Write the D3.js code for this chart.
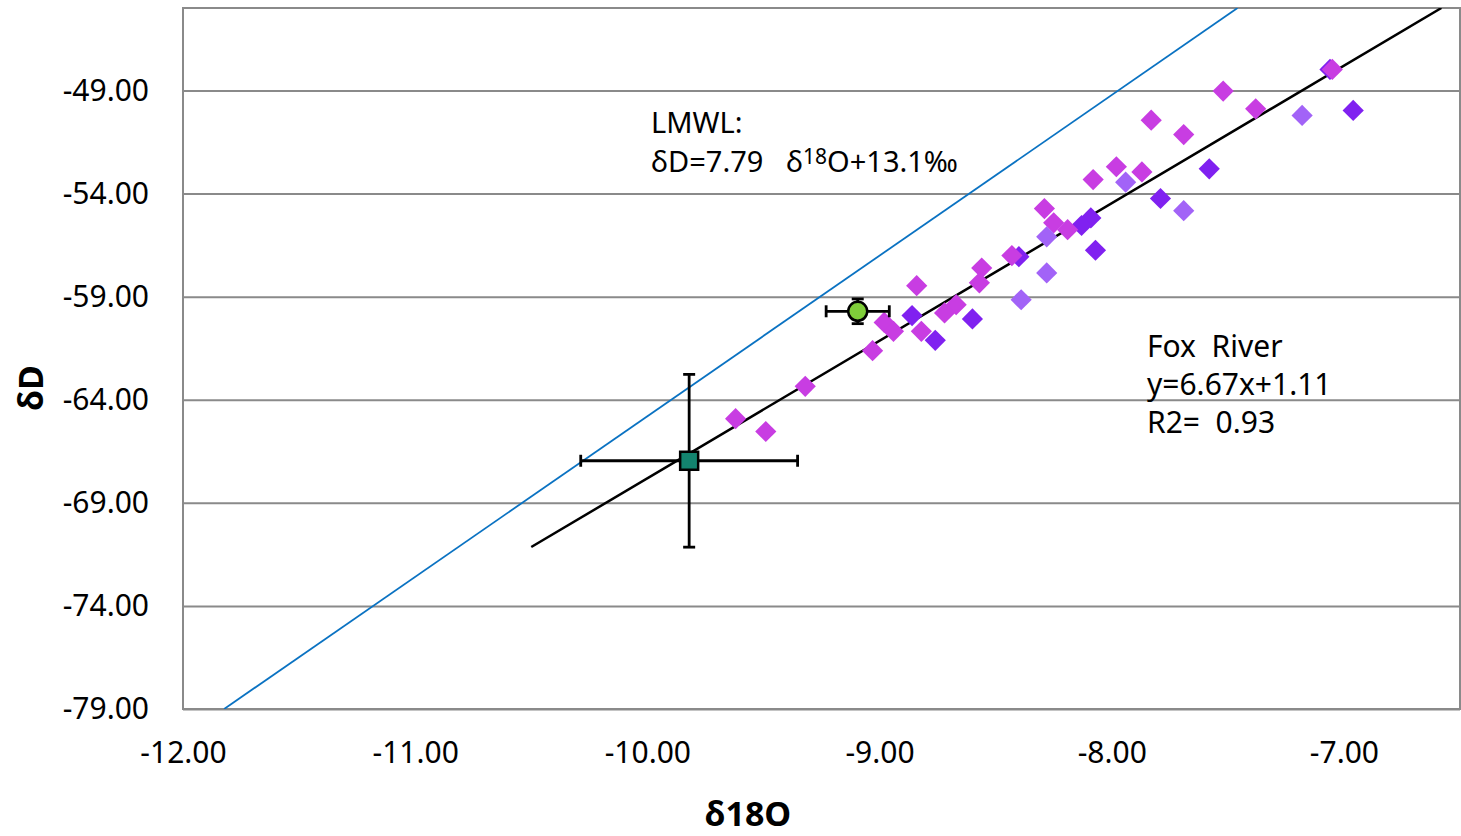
<!DOCTYPE html>
<html>
<head>
<meta charset="utf-8">
<script src="https://cdn.jsdelivr.net/npm/d3@7"></script>
<style>
  body { margin: 0; background: #fff; }
  text { font-family: "Noto Sans", "Open Sans", sans-serif; fill: #000; }
</style>
</head>
<body>
<div id="chart"></div>
<script>
// samples, three groups of diamonds (d18O, dD)
const violetPts = [
  [-7.06, -47.98], [-6.96, -49.97], [-7.58, -52.80], [-7.79, -54.24],
  [-8.09, -55.18], [-8.13, -55.55], [-8.07, -56.75], [-8.40, -57.06],
  [-8.86, -59.92], [-8.60, -60.08], [-8.76, -61.12]
];
const magentaPts = [
  [-7.05, -47.98], [-7.52, -49.03], [-7.38, -49.89], [-7.83, -50.44],
  [-7.69, -51.14], [-7.98, -52.70], [-7.87, -52.95], [-8.08, -53.32],
  [-8.29, -54.73], [-8.25, -55.42], [-8.19, -55.75], [-8.43, -57.01],
  [-8.56, -57.61], [-8.57, -58.33], [-8.84, -58.47], [-8.67, -59.39],
  [-8.72, -59.79], [-8.98, -60.25], [-8.94, -60.68], [-8.82, -60.68],
  [-9.03, -61.62], [-9.32, -63.35], [-9.62, -64.92], [-9.49, -65.54]
];
const lightPts = [
  [-7.18, -50.21], [-7.94, -53.45], [-7.69, -54.83], [-8.28, -56.10],
  [-8.28, -57.85], [-8.39, -59.15]
];

// mean values with error bars: [x, y, xErr, yErr]
const greenMean = [-9.094, -59.71, 0.136, 0.6];
const squareMean = [-9.82, -66.96, 0.467, 4.19];

// lines
const lmwl = { slope: 7.79, intercept: 13.1 };
const foxTrend = { slope: 6.67, intercept: -1.11, startX: -10.5 };

const xTicks = [-12, -11, -10, -9, -8, -7];
const yTicks = [-79, -74, -69, -64, -59, -54, -49];
const xDomain = [-12, -6.5];
const yDomain = [-79, -45];

const foxLabels = ['Fox\u00a0\u00a0River', 'y=6.67x+1.11', 'R2=\u00a0\u00a00.93'];

const colors = { violet: '#8021f0', magenta: '#c83de2', light: '#a263f7' };

const dimensions = {
  width: 1461,
  height: 836,
  margin: { top: 8, right: 1, bottom: 127, left: 183 }
};
dimensions.ctrWidth = dimensions.width - dimensions.margin.left - dimensions.margin.right;
dimensions.ctrHeight = dimensions.height - dimensions.margin.top - dimensions.margin.bottom;

const svg = d3.select('#chart')
  .append('svg')
  .attr('width', dimensions.width)
  .attr('height', dimensions.height);

const ctr = svg.append('g')
  .attr('transform', `translate(${dimensions.margin.left}, ${dimensions.margin.top})`);

const xScale = d3.scaleLinear().domain(xDomain).range([0, dimensions.ctrWidth]);
const yScale = d3.scaleLinear().domain(yDomain).range([dimensions.ctrHeight, 0]);

svg.append('defs').append('clipPath').attr('id', 'plot-clip')
  .append('rect')
  .attr('width', dimensions.ctrWidth)
  .attr('height', dimensions.ctrHeight);

// plain hyphen, like the original
const fmt = (d) => d.toFixed(2);

// grid + y axis
const yAxis = d3.axisLeft(yScale)
  .tickValues(yTicks)
  .tickSize(-dimensions.ctrWidth)
  .tickPadding(34)
  .tickFormat(fmt);

const yAxisGroup = ctr.append('g').call(yAxis);
yAxisGroup.select('.domain').remove();
yAxisGroup.selectAll('line').attr('stroke', '#8a8a8a').attr('stroke-width', 2);
yAxisGroup.selectAll('text')
  .attr('font-size', 30)
  .attr('font-family', '"Noto Sans", sans-serif')
  .attr('fill', '#000');

const xAxis = d3.axisBottom(xScale)
  .tickValues(xTicks)
  .tickSize(0)
  .tickPadding(33)
  .tickFormat(fmt);

const xAxisGroup = ctr.append('g')
  .attr('transform', `translate(0, ${dimensions.ctrHeight})`)
  .call(xAxis);
xAxisGroup.select('.domain').remove();
xAxisGroup.selectAll('text')
  .attr('font-size', 30)
  .attr('font-family', '"Noto Sans", sans-serif')
  .attr('fill', '#000');

// plot border
ctr.append('rect')
  .attr('width', dimensions.ctrWidth)
  .attr('height', dimensions.ctrHeight)
  .attr('fill', 'none')
  .attr('stroke', '#8a8a8a')
  .attr('stroke-width', 2);

const plot = ctr.append('g').attr('clip-path', 'url(#plot-clip)');

// LMWL
const lmwlX0 = (yDomain[0] - lmwl.intercept) / lmwl.slope;
const lmwlX1 = (yDomain[1] - lmwl.intercept) / lmwl.slope;
plot.append('line')
  .attr('x1', xScale(lmwlX0)).attr('y1', yScale(lmwl.slope * lmwlX0 + lmwl.intercept))
  .attr('x2', xScale(lmwlX1)).attr('y2', yScale(lmwl.slope * lmwlX1 + lmwl.intercept))
  .attr('stroke', '#0a72c2')
  .attr('stroke-width', 1.8);

// Fox River trendline
const trendEndX = (yDomain[1] - foxTrend.intercept) / foxTrend.slope;
plot.append('line')
  .attr('x1', xScale(foxTrend.startX))
  .attr('y1', yScale(foxTrend.slope * foxTrend.startX + foxTrend.intercept))
  .attr('x2', xScale(trendEndX))
  .attr('y2', yScale(foxTrend.slope * trendEndX + foxTrend.intercept))
  .attr('stroke', '#000')
  .attr('stroke-width', 2.5);

// diamonds
const diamond = d3.symbol(d3.symbolSquare, 225);
const drawDiamonds = (pts, color) => {
  plot.append('g')
    .selectAll('path')
    .data(pts)
    .join('path')
    .attr('d', diamond)
    .attr('transform', (d) => `translate(${xScale(d[0])}, ${yScale(d[1])}) rotate(45)`)
    .attr('fill', color);
};
drawDiamonds(violetPts, colors.violet);
drawDiamonds(magentaPts, colors.magenta);
drawDiamonds(lightPts, colors.light);

// error bars
const drawErrorBars = (m) => {
  const g = plot.append('g').attr('stroke', '#000').attr('stroke-width', 2.8);
  const cx = xScale(m[0]);
  const cy = yScale(m[1]);
  const xl = xScale(m[0] - m[2]);
  const xr = xScale(m[0] + m[2]);
  const yt = yScale(m[1] + m[3]);
  const yb = yScale(m[1] - m[3]);
  const cap = 6;
  g.append('line').attr('x1', xl).attr('x2', xr).attr('y1', cy).attr('y2', cy);
  g.append('line').attr('x1', cx).attr('x2', cx).attr('y1', yt).attr('y2', yb);
  g.append('line').attr('x1', xl).attr('x2', xl).attr('y1', cy - cap).attr('y2', cy + cap);
  g.append('line').attr('x1', xr).attr('x2', xr).attr('y1', cy - cap).attr('y2', cy + cap);
  g.append('line').attr('x1', cx - cap).attr('x2', cx + cap).attr('y1', yt).attr('y2', yt);
  g.append('line').attr('x1', cx - cap).attr('x2', cx + cap).attr('y1', yb).attr('y2', yb);
};
drawErrorBars(squareMean);
drawErrorBars(greenMean);

plot.append('rect')
  .attr('x', xScale(squareMean[0]) - 9)
  .attr('y', yScale(squareMean[1]) - 9)
  .attr('width', 18)
  .attr('height', 18)
  .attr('fill', '#13846f')
  .attr('stroke', '#000')
  .attr('stroke-width', 2.5);

plot.append('circle')
  .attr('cx', xScale(greenMean[0]))
  .attr('cy', yScale(greenMean[1]))
  .attr('r', 9.5)
  .attr('fill', '#7fce3a')
  .attr('stroke', '#000')
  .attr('stroke-width', 2.5);

// annotations (one text per line)
svg.append('text')
  .attr('x', 651).attr('y', 133)
  .attr('font-size', 29)
  .text('LMWL:');

const l2 = svg.append('text')
  .attr('x', 651).attr('y', 172)
  .attr('font-size', 29);
l2.append('tspan').text('δD=7.79\u00a0\u00a0\u00a0δ');
l2.append('tspan').attr('font-size', 21).attr('dy', -8).text('18');
l2.append('tspan').attr('dy', 8).text('O+13.1‰');

foxLabels.forEach((t, i) => {
  svg.append('text')
    .attr('x', 1147).attr('y', 357 + i * 38)
    .attr('font-size', 30)
    .text(t);
});

// axis titles
svg.append('text')
  .attr('x', 748).attr('y', 826)
  .attr('text-anchor', 'middle')
  .attr('font-size', 34)
  .attr('font-weight', 'bold')
  .text('δ18O');

svg.append('text')
  .attr('transform', 'translate(43, 388) rotate(-90)')
  .attr('text-anchor', 'middle')
  .attr('font-size', 34)
  .attr('font-weight', 'bold')
  .text('δD');
</script>
</body>
</html>
